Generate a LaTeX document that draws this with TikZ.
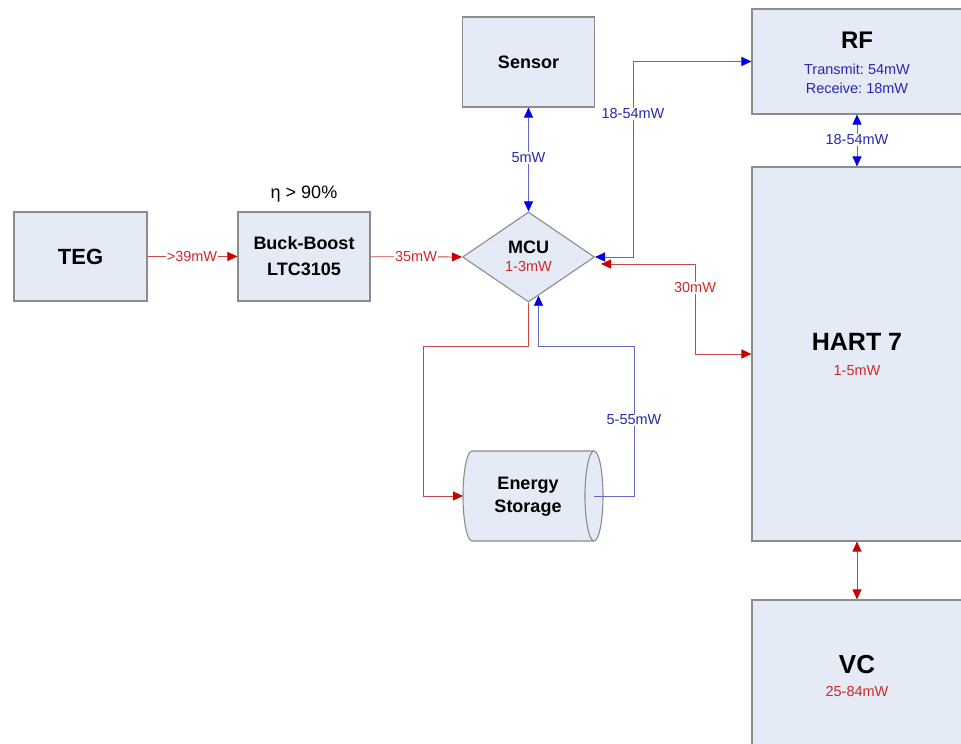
\documentclass[tikz,border=0pt]{standalone}
\usepackage{fontspec}
\setmainfont{Liberation Sans}
\frenchspacing
\usetikzlibrary{arrows.meta,shapes.geometric,calc}
\definecolor{boxfill}{RGB}{228,234,246}
\definecolor{boxline}{RGB}{140,140,140}
\definecolor{lnred}{RGB}{200,70,70}
\definecolor{tipred}{RGB}{200,0,0}
\definecolor{txtred}{RGB}{210,40,40}
\definecolor{lnblue}{RGB}{100,100,205}
\definecolor{tipblue}{RGB}{0,0,230}
\definecolor{txtblue}{RGB}{40,40,175}
\tikzset{
  box/.style={draw=boxline, fill=boxfill, line width=1.1pt, inner sep=0pt},
  ttl/.style={font=\fontsize{18}{26}\selectfont\bfseries, align=center, inner sep=0pt},
  bigttl/.style={font=\fontsize{#1}{#1}\selectfont\bfseries, inner sep=0pt},
  rlbl/.style={font=\fontsize{14.5}{19}\selectfont, text=txtred, fill=white, inner sep=1pt, align=center},
  blbl/.style={font=\fontsize{14.5}{19}\selectfont, text=txtblue, fill=white, inner sep=1pt, align=center},
  sublbl/.style={font=\fontsize{14.5}{19}\selectfont, inner sep=0pt, align=center},
  redone/.style={draw=lnred, line width=0.9pt, -{Triangle[length=10pt,width=9pt,color=tipred]}},
  reddbl/.style={draw=lnred, line width=0.9pt, {Triangle[length=10pt,width=9pt,color=tipred]}-{Triangle[length=10pt,width=9pt,color=tipred]}},
  blueone/.style={draw=lnblue, line width=0.9pt, -{Triangle[length=10pt,width=9pt,color=tipblue]}},
  bluedbl/.style={draw=lnblue, line width=0.9pt, {Triangle[length=10pt,width=9pt,color=tipblue]}-{Triangle[length=10pt,width=9pt,color=tipblue]}}
}
\begin{document}
\begin{tikzpicture}[x=1pt,y=1pt]
\useasboundingbox (0,0) rectangle (961,744);
\clip (0,0) rectangle (961,744);
\fill[white] (0,0) rectangle (961,744);

% boxes
\node[box, minimum width=133pt, minimum height=89pt] (teg) at (80.5,487.5) {};
\node[bigttl=22] (tegt) at (teg.center) {TEG};
\node[box, minimum width=132pt, minimum height=89pt] (buck) at (304,487.5) {};
\node[ttl] (buckt) at (buck.center) {Buck-Boost\\LTC3105};
\node[font=\fontsize{18}{22}\selectfont, inner sep=0pt] (eta) at (304,550) {η > 90\%};
\node[box, minimum width=132pt, minimum height=90pt] (sensor) at (528.5,682) {};
\node[ttl] (sensort) at (sensor.center) {Sensor};
\node[box, diamond, aspect=1.4667, minimum width=132pt, minimum height=90pt] (mcu) at (528.5,487) {};
\node[ttl] (mcut) at (528.5,497) {MCU};
\node[sublbl, text=txtred] (mcus) at (528.5,477) {1-3mW};
\node[box, minimum width=210pt, minimum height=105pt] (rf) at (857,682.5) {};
\node[bigttl=24] (rft) at (857,704) {RF};
\node[sublbl, text=txtblue] (rfs) at (857,665.5) {Transmit: 54mW\\Receive: 18mW};
\node[box, minimum width=210pt, minimum height=374pt] (hart) at (857,390) {};
\node[bigttl=25] (hartt) at (857,402) {HART 7};
\node[sublbl, text=txtred] (harts) at (857,373) {1-5mW};
\node[box, minimum width=210pt, minimum height=160pt] (vc) at (857,64) {};
\node[bigttl=26] (vct) at (857,79) {VC};
\node[sublbl, text=txtred] (vcs) at (857,52) {25-84mW};

% energy storage cylinder
\filldraw[draw=boxline, fill=boxfill, line width=1.1pt]
  (594,293) -- (472,293) arc[start angle=90, end angle=270, x radius=9, y radius=45]
  -- (594,203) arc[start angle=-90, end angle=90, x radius=9, y radius=45] -- cycle;
\draw[boxline, line width=1.1pt] (594,293) arc[start angle=90, end angle=270, x radius=9, y radius=45];
\node[ttl, font=\fontsize{18}{23}\selectfont\bfseries] (es) at (528,247) {Energy\\Storage};
\coordinate (esw) at (463,248);
\coordinate (esr) at (594,248);
\coordinate (mcuin) at ($(mcu.south)+(10,6.8)$);
\coordinate (mcuhr) at ($(mcu.east)+(6,-7)$);

% connectors
\draw[redone] (teg) -- (buck);
\draw[redone] (buck) -- (mcu.west);
\draw[bluedbl] (sensor.south) -- (mcu.north);
\draw[bluedbl] (mcu.east) -- (633,487) |- (rf.west);
\draw[bluedbl] (rf.south) -- (hart.north);
\draw[reddbl] (mcuhr) -| (695,390) -- (hart.west);
\draw[reddbl] (hart.south) -- (vc.north);
\draw[redone] (mcu.south) |- (423,398) |- (esw);
\draw[blueone] (esr) -| (634,398) -| (mcuin);

% labels
\node[rlbl] (l39) at (192,487.5) {>39mW};
\node[rlbl] (l35) at (416,487.5) {35mW};
\node[blbl] (l5) at (528.5,586) {5mW};
\node[blbl] (l1854a) at (633,630) {18-54mW};
\node[blbl] (l1854b) at (857,604) {18-54mW};
\node[rlbl] (l30) at (695,456) {30mW};
\node[blbl] (l555) at (634,324) {5-55mW};
\end{tikzpicture}
\end{document}
